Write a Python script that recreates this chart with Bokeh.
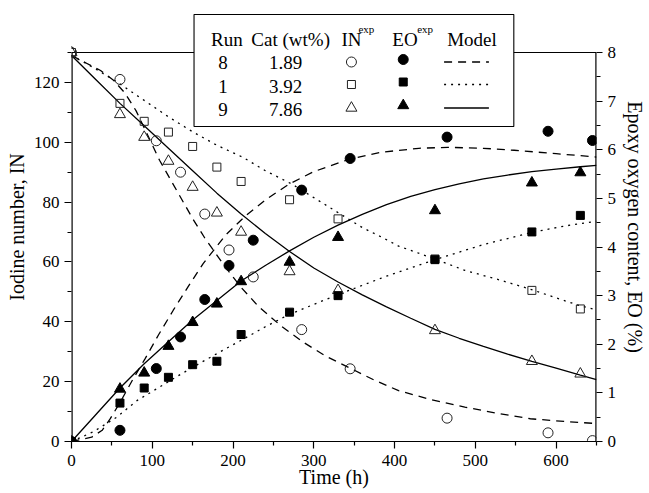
from bokeh.plotting import figure
from bokeh.models import Range1d, LinearAxis, FixedTicker, Label
from bokeh.embed import file_html
from bokeh.resources import INLINE

# ---------------- data ----------------
runs = ["8", "1", "9"]
cat_wt = ["1.89", "3.92", "7.86"]

t8 = [0, 60, 105, 135, 165, 195, 225, 285, 345, 465, 590, 645]
in8 = [130, 121, 100.5, 90, 76, 64, 55, 37.4, 24.3, 7.8, 2.9, 0.3]
eo8 = [0, 0.23, 1.50, 2.15, 2.92, 3.62, 4.14, 5.17, 5.82, 6.26, 6.38, 6.19]

t1 = [0, 60, 90, 120, 150, 180, 210, 270, 330, 450, 570, 630]
in1 = [130, 113, 107, 103.4, 98.6, 91.7, 86.9, 80.8, 74.4, 61, 50.5, 44.3]
eo1 = [0, 0.79, 1.10, 1.32, 1.58, 1.65, 2.20, 2.66, 3.00, 3.74, 4.31, 4.65]

t9 = [0, 60, 90, 120, 150, 180, 210, 270, 330, 450, 570, 630]
in9 = [130, 109.3, 101.7, 93.7, 85, 76.4, 70, 56.8, 50.5, 37.1, 26.8, 22.6]
eo9 = [0, 1.08, 1.41, 1.96, 2.45, 2.83, 3.29, 3.69, 4.20, 4.75, 5.32, 5.53]

# model curves
m_t_in8 = [0, 18, 36, 52, 66, 80, 95, 109, 130, 150, 165, 190, 210, 232, 260, 288, 315, 345, 375, 405, 445, 487, 528, 568, 610, 650]
m_in8 = [129, 126.5, 124, 120.7, 116.5, 110.5, 102, 94, 84, 74.5, 68, 58.5, 51.5, 45, 38.5, 33, 28.5, 24.5, 20.5, 17, 14, 11.5, 9.4, 7.6, 6.7, 6]
m_t_eo8 = [0, 25, 38, 48, 60, 75, 91, 108, 126, 145, 163, 191, 216, 241, 270, 300, 343, 384, 430, 466, 510, 548, 600, 650]
m_eo8 = [0, 0.09, 0.23, 0.47, 0.8, 1.25, 1.7, 2.2, 2.7, 3.2, 3.66, 4.25, 4.65, 4.98, 5.3, 5.55, 5.8, 5.95, 6.03, 6.05, 6.03, 5.99, 5.92, 5.85]

m_t_in1 = [0, 27, 60, 90, 120, 150, 180, 212, 240, 273, 300, 327, 360, 384, 405, 450, 487, 530, 567, 600, 628, 650]
m_in1 = [129, 125, 119.5, 114, 108.5, 103.5, 99, 95, 90.5, 86, 81.5, 77, 71.5, 68.3, 65.3, 61, 57.2, 54, 51, 48, 45.5, 44]
m_t_eo1 = [0, 27, 56, 81, 105, 132, 160, 190, 210, 240, 268, 300, 330, 390, 450, 510, 570, 610, 650]
m_eo1 = [0, 0.2, 0.5, 0.84, 1.08, 1.35, 1.62, 1.9, 2.08, 2.36, 2.6, 2.82, 3.02, 3.4, 3.74, 4.05, 4.3, 4.43, 4.53]

m_t9 = [0, 30, 60, 90, 120, 150, 180, 210, 240, 270, 300, 330, 360, 390, 420, 450, 480, 510, 540, 570, 600, 630, 650]
m_in9 = [129, 121, 113, 105.5, 98, 90.5, 83, 76, 69.5, 63.5, 58, 53.3, 49, 45, 41.2, 37.5, 34.5, 31.8, 29.2, 26.8, 24.5, 22.2, 20.7]
m_eo9 = [0, 0.55, 1.1, 1.6, 2.05, 2.5, 2.9, 3.3, 3.62, 3.92, 4.2, 4.45, 4.67, 4.87, 5.04, 5.18, 5.3, 5.4, 5.48, 5.55, 5.6, 5.65, 5.68]

in_ticks = [0, 20, 40, 60, 80, 100, 120]
in_minor = [10, 30, 50, 70, 90, 110, 130]
eo_ticks = [0, 1, 2, 3, 4, 5, 6, 7, 8]
eo_minor = [0.5, 1.5, 2.5, 3.5, 4.5, 5.5, 6.5, 7.5]
t_ticks = [0, 100, 200, 300, 400, 500, 600]
t_minor = [50, 150, 250, 350, 450, 550, 650]

# ---------------- layout constants (page pixels) ----------------
SERIF = "Liberation Serif"
X_MAX, IN_MAX, EO_MAX = 650, 130, 8
W, H = 649, 493
FL, FR, FT, FB = 71, 598, 52, 441      # plotted axes box
CANVAS_TOP = 12                          # frame extended upward to hold the legend table

in_top = IN_MAX * (FB - CANVAS_TOP) / (FB - FT)
eo_top = EO_MAX * (FB - CANVAS_TOP) / (FB - FT)

p = figure(width=W, height=H, output_backend="svg", toolbar_location=None,
           x_range=Range1d(0, X_MAX), y_range=Range1d(0, in_top),
           min_border_left=FL, min_border_right=W - FR, min_border_top=CANVAS_TOP,
           min_border_bottom=H - FB)
p.extra_y_ranges = {"eo": Range1d(0, eo_top)}
p.grid.visible = False
p.outline_line_color = None
p.background_fill_color = "white"
p.border_fill_color = "white"


def style_axis(ax, ticks, minor):
    ax.ticker = FixedTicker(ticks=ticks, minor_ticks=minor)
    ax.axis_line_color = None
    ax.major_tick_in = 0
    ax.major_tick_out = 7
    ax.minor_tick_in = 0
    ax.minor_tick_out = 4
    ax.major_tick_line_color = "black"
    ax.minor_tick_line_color = "black"
    ax.major_tick_line_width = 1.2
    ax.minor_tick_line_width = 1.2
    ax.major_label_text_font = SERIF
    ax.major_label_text_font_size = "17px"
    ax.major_label_text_color = "black"
    ax.axis_label_text_font = SERIF
    ax.axis_label_text_font_size = "20px"
    ax.axis_label_text_font_style = "normal"
    ax.axis_label_text_color = "black"


xa = p.xaxis[0]
style_axis(xa, t_ticks, t_minor)
xa.axis_line_color = "black"
xa.axis_line_width = 1.2
xa.axis_label = "Time (h)"
xa.major_label_standoff = 6
xa.axis_label_standoff = -3

ya = p.yaxis[0]
style_axis(ya, in_ticks, in_minor)
ya.axis_label = "Iodine number, IN"
ya.major_label_standoff = 5
ya.axis_label_standoff = 3

ra = LinearAxis(y_range_name="eo")
style_axis(ra, eo_ticks, eo_minor)
ra.major_tick_out = 6
ra.axis_label = "Epoxy oxygen content, EO (%)"
ra.major_label_standoff = 5
ra.axis_label_standoff = 5
p.add_layout(ra, "right")

# box of the axes (left, right, top); drawn on the frame edge so width doubled
p.line([0, 0], [0, IN_MAX], line_color="black", line_width=2.4)
p.line([X_MAX, X_MAX], [0, IN_MAX], line_color="black", line_width=2.4)
p.line([0, X_MAX], [IN_MAX, IN_MAX], line_color="black", line_width=1.2)

# ---------------- model curves ----------------
DASH = "8 6"
DOT = "2 5"
LW = 1.3
p.line(m_t_in8, m_in8, line_color="black", line_width=LW, line_dash=DASH)
p.line(m_t_eo8, m_eo8, line_color="black", line_width=LW, line_dash=DASH, y_range_name="eo")
p.line(m_t_in1, m_in1, line_color="black", line_width=LW, line_dash=DOT)
p.line(m_t_eo1, m_eo1, line_color="black", line_width=LW, line_dash=DOT, y_range_name="eo")
p.line(m_t9, m_in9, line_color="black", line_width=LW)
p.line(m_t9, m_eo9, line_color="black", line_width=LW, y_range_name="eo")

# ---------------- experimental points ----------------
OPEN = dict(fill_color=None, line_color="#222222", line_width=1)
FILL = dict(fill_color="black", line_color="black", line_width=1)
p.scatter(t8, in8, marker="circle", size=10, **OPEN)
p.scatter(t1, in1, marker="square", size=8, **OPEN)
p.scatter(t9, in9, marker="triangle", size=11, **OPEN)
p.scatter(t8, eo8, marker="circle", size=10, y_range_name="eo", **FILL)
p.scatter(t1, eo1, marker="square", size=8, y_range_name="eo", **FILL)
p.scatter(t9, eo9, marker="triangle", size=11, y_range_name="eo", **FILL)


# ---------------- legend table ----------------
def lx(px):
    return (px - FL) / (FR - FL) * X_MAX


def ly(py):
    return (FB - py) / (FB - FT) * IN_MAX


p.quad(left=[lx(194)], right=[lx(515)], top=[ly(14)], bottom=[ly(126)],
       fill_color="white", line_color="black", line_width=1.1)

TXT_DY = 6  # rendered labels sit this much lower than the requested baseline


def txt(x, y, s, size="19px", align="center"):
    p.add_layout(Label(x=lx(x), y=ly(y - TXT_DY), text=s, text_font=SERIF, text_font_size=size,
                       text_align=align, text_baseline="alphabetic", text_color="black"))


txt(227, 45, "Run")
txt(291, 45, "Cat (wt%)")
txt(342, 45, "IN", align="left")
txt(359, 34, "exp", size="11px", align="left")
txt(393, 45, "EO", align="left")
txt(418, 34, "exp", size="11px", align="left")
txt(473, 45, "Model")

row_base = [68, 91.5, 115]
row_mid = [61.5, 84, 107.5]
for i in range(3):
    txt(223, row_base[i], runs[i])
    txt(286, row_base[i], cat_wt[i])

markers = ["circle", "square", "triangle"]
msize = [10, 8, 11]
dashes = [DASH, DOT, "solid"]
for i in range(3):
    p.scatter([lx(352)], [ly(row_mid[i])], marker=markers[i], size=msize[i], **OPEN)
    p.scatter([lx(404)], [ly(row_mid[i] - 2.5)], marker=markers[i], size=msize[i], **FILL)
    p.line([lx(445), lx(490)], [ly(row_mid[i]), ly(row_mid[i])], line_color="black",
           line_width=LW, line_dash=dashes[i])

open("out.html", "w").write(file_html(p, INLINE))
